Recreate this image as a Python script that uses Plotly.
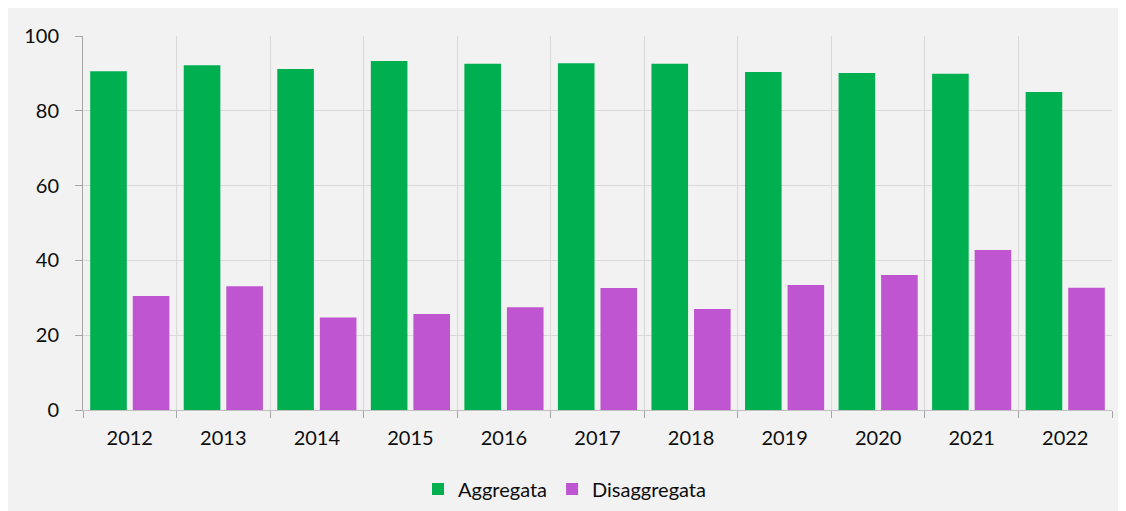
import plotly.graph_objects as go

years = ["2012", "2013", "2014", "2015", "2016", "2017", "2018", "2019", "2020", "2021", "2022"]
aggregata = [90.6, 92.2, 91.2, 93.3, 92.6, 92.7, 92.6, 90.4, 90.1, 89.9, 85.0]
disaggregata = [30.5, 33.1, 24.7, 25.7, 27.5, 32.6, 27.0, 33.4, 36.1, 42.8, 32.7]
y_ticks = [0, 20, 40, 60, 80, 100]

# the page body has an 8px margin; the figure runs past the window edge like the reference
W, H = 1126, 511
ml, mr, mt, mb = 75, 22, 28, 109
pw, ph = W - ml - mr, H - mt - mb

fam = "Lato, 'Open Sans', sans-serif"
txt = "#0d0d0d"

fig = go.Figure()
fig.add_trace(go.Bar(name="Aggregata", x=years, y=aggregata,
                     marker=dict(color="#00b050", line=dict(width=0))))
fig.add_trace(go.Bar(name="Disaggregata", x=years, y=disaggregata,
                     marker=dict(color="#bf55d1", line=dict(width=0))))

fig.update_layout(
    width=W, height=H,
    margin=dict(l=ml, r=mr, t=mt, b=mb, pad=0, autoexpand=False),
    paper_bgcolor="#f2f2f2", plot_bgcolor="#f2f2f2",
    barmode="group", bargap=0.09, bargroupgap=0.14,
    font=dict(family=fam, size=20, color=txt),
    showlegend=True,
    legend=dict(orientation="h", x=0.5 - 33 / pw, xanchor="center",
                y=(mt + ph - 481) / ph, yanchor="middle",
                font=dict(size=20, family=fam, color=txt), bgcolor="rgba(0,0,0,0)",
                itemwidth=30, traceorder="normal"),
    xaxis=dict(type="category", tickson="boundaries", showgrid=True, gridcolor="#d9d9d9", gridwidth=1,
               showline=True, linecolor="#bfbfbf", linewidth=1,
               ticks="outside", ticklen=7, tickcolor="#a6a6a6",
               ticklabelstandoff=10, automargin=False,
               tickfont=dict(size=20, family=fam, color=txt)),
    yaxis=dict(range=[0, 100], tickvals=y_ticks, showgrid=True, gridcolor="#d9d9d9", gridwidth=1,
               showline=True, linecolor="#a6a6a6", linewidth=1, zeroline=False,
               ticks="outside", ticklen=7, tickcolor="#a6a6a6",
               ticklabelstandoff=12, automargin=False,
               tickfont=dict(size=20, family=fam, color=txt)),
)

fig.write_html("out.html")
